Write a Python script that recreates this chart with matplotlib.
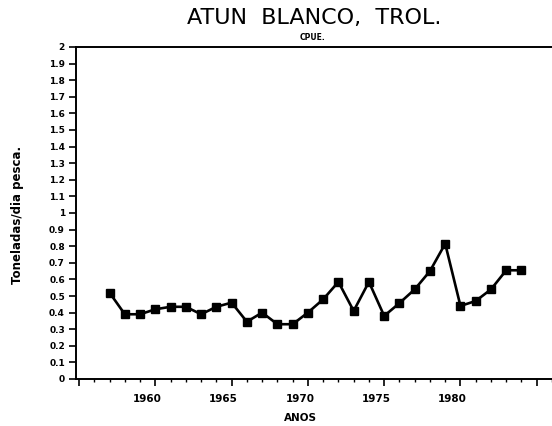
import matplotlib
matplotlib.use("Agg")
import matplotlib.pyplot as plt
from matplotlib.ticker import MultipleLocator, FixedLocator
import matplotlib.transforms as mtransforms

years = list(range(1957, 1985))
cpue = [0.52, 0.39, 0.39, 0.42, 0.435, 0.435, 0.39, 0.435, 0.46, 0.345,
        0.40, 0.33, 0.33, 0.40, 0.48, 0.585, 0.41, 0.585, 0.38, 0.457,
        0.54, 0.65, 0.815, 0.44, 0.47, 0.54, 0.655, 0.655]
x_tick_labels = ["1960", "1965", "1970", "1975", "1980"]
y_tick_values = [round(i * 0.1, 1) for i in range(21)]

title = "ATUN  BLANCO,  TROL."
subtitle = "CPUE."
xlabel = "ANOS"
ylabel = "Toneladas/dia pesca."

fig = plt.figure(figsize=(5.52, 4.26), dpi=100)
ax = fig.add_axes([76 / 552, 1 - 379 / 426, 1 - 76 / 552, (379 - 47) / 426])

ax.plot(years, cpue, color="black", lw=1.9, marker="s", markersize=5.5,
        markerfacecolor="black", markeredgecolor="black")

ax.set_xlim(1954.8, 1986)
ax.set_ylim(0, 2)

ax.spines["right"].set_visible(False)
for s in ["left", "bottom", "top"]:
    ax.spines[s].set_linewidth(1.4)

ax.xaxis.set_major_locator(FixedLocator([1955, 1960, 1965, 1970, 1975, 1980, 1985]))
ax.xaxis.set_minor_locator(MultipleLocator(1))
ax.set_xticklabels([""] + x_tick_labels + [""])
ax.tick_params(axis="x", which="major", direction="out", length=5, width=1.2, pad=6,
               labelsize=7.5)
ax.tick_params(axis="x", which="minor", direction="out", length=2.5, width=1.0)
offset = mtransforms.ScaledTranslation(-8 / 100, 0, fig.dpi_scale_trans)
for lab in ax.get_xticklabels():
    lab.set_transform(lab.get_transform() + offset)
    lab.set_fontweight("bold")

ax.set_yticks(y_tick_values)
ax.set_yticklabels([("%g" % v) for v in y_tick_values], fontweight="bold")
ax.tick_params(axis="y", which="major", direction="out", length=5, width=1.2, pad=3,
               labelsize=6.5)

fig.text(314 / 552, 1 - 18 / 426, title, ha="center", va="center", fontsize=16,
         color="black", fontweight="normal")
fig.text(313 / 552, 1 - 38 / 426, subtitle, ha="center", va="center", fontsize=5.5,
         fontweight="bold")
fig.text(300 / 552, 1 - 418 / 426, xlabel, ha="center", va="center", fontsize=7.5,
         fontweight="bold")
fig.text(18 / 552, 1 - 215 / 426, ylabel, ha="center", va="center", fontsize=8.5,
         fontweight="bold", rotation=90)

fig.savefig("out.png", dpi=100)
